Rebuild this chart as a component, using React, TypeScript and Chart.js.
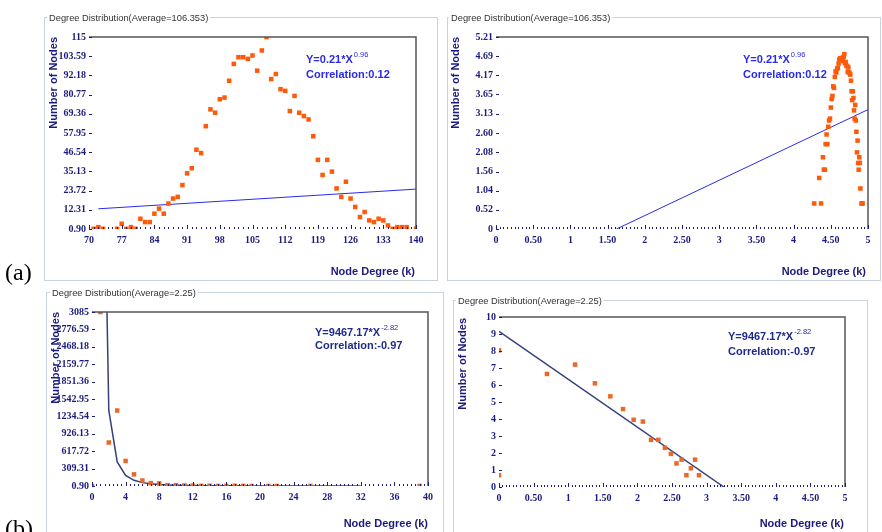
import React, { useEffect, useRef } from 'react';
import { Chart, registerables } from 'chart.js';

Chart.register(...registerables);

// ---------------- data ----------------
// (a) left: degree distribution, linear axes
const aDegrees = [71, 72, 73, 76, 77, 78, 79, 80, 81, 82, 83, 84, 85, 86, 87, 88, 89, 90, 91, 92, 93, 94, 95, 96, 97, 98, 99, 100, 101, 102, 103, 104, 105, 106, 107, 108, 109, 110, 111, 112, 113, 114, 115, 116, 117, 118, 119, 120, 121, 122, 123, 124, 125, 126, 127, 128, 129, 130, 131, 132, 133, 134, 135, 136, 137, 138, 140];
const aCounts = [1, 2, 1, 1, 4, 1, 2, 1, 7, 5, 5, 10, 13, 10, 16, 19, 20, 27, 34, 37, 48, 46, 62, 72, 70, 78, 79, 89, 99, 103, 103, 102, 104, 95, 107, 115, 90, 93, 84, 83, 71, 80, 70, 68, 66, 56, 42, 33, 42, 35, 25, 20, 29, 19, 14, 8, 11, 6, 5, 7, 6, 3, 1, 2, 2, 2, 1];
const aFitX = [72, 140];
const aFitY = [12.9, 24.6];
const aXTickLabels = ['70', '77', '84', '91', '98', '105', '112', '119', '126', '133', '140'];
const aYTickLabels = ['0.90', '12.31', '23.72', '35.13', '46.54', '57.95', '69.36', '80.77', '92.18', '103.59', '115'];

// (a) right: ln-ln view
const aLnDegree = [4.277, 4.344, 4.369, 4.394, 4.407, 4.419, 4.431, 4.443, 4.454, 4.466, 4.477, 4.489, 4.5, 4.511, 4.522, 4.533, 4.543, 4.554, 4.564, 4.575, 4.585, 4.595, 4.605, 4.615, 4.625, 4.635, 4.644, 4.654, 4.663, 4.673, 4.682, 4.691, 4.7, 4.71, 4.718, 4.727, 4.736, 4.745, 4.754, 4.762, 4.771, 4.779, 4.787, 4.796, 4.804, 4.812, 4.82, 4.828, 4.836, 4.844, 4.852, 4.86, 4.868, 4.875, 4.883, 4.89, 4.898, 4.913, 4.92, 4.927];
const aLnCount = [0.693, 1.386, 0.693, 1.946, 1.609, 1.609, 2.303, 2.565, 2.303, 2.773, 2.944, 2.996, 3.296, 3.526, 3.611, 3.871, 3.829, 4.127, 4.277, 4.248, 4.357, 4.369, 4.489, 4.595, 4.635, 4.635, 4.625, 4.644, 4.554, 4.673, 4.745, 4.5, 4.533, 4.431, 4.419, 4.263, 4.382, 4.248, 4.22, 4.19, 4.025, 3.738, 3.497, 3.738, 3.555, 3.219, 2.996, 3.367, 2.944, 2.639, 2.079, 2.398, 1.792, 1.609, 1.946, 1.792, 1.099, 0.693, 0.693, 0.693];
const aLnFitX = [1.62, 5];
const aLnFitY = [0, 3.24];
const lnXTickLabels = ['0', '0.50', '1', '1.50', '2', '2.50', '3', '3.50', '4', '4.50', '5'];
const aLnYTickLabels = ['0', '0.52', '1.04', '1.56', '2.08', '2.60', '3.13', '3.65', '4.17', '4.69', '5.21'];

// (b) left: degree distribution, linear axes
const bDegrees = [0, 1, 2, 3, 4, 5, 6, 7, 8, 9, 10, 11, 12, 13, 14, 15, 16, 17, 18, 19, 21, 22, 26, 39];
const bCounts = [2, 3085, 772, 1339, 445, 207, 98, 52, 47, 16, 16, 10, 7, 4, 5, 2, 3, 5, 2, 1, 1, 1, 1, 1];
const bFitX = [1, 2, 3, 4, 5, 6, 7, 8, 9, 10, 12, 14, 16, 20, 24, 28, 32];
const bFitY = [9467.17, 1340.6, 427.4, 189.9, 101.2, 60.5, 39.2, 26.9, 19.3, 14.3, 8.6, 5.5, 3.8, 2.0, 1.2, 0.79, 0.54];
const bXTickLabels = ['0', '4', '8', '12', '16', '20', '24', '28', '32', '36', '40'];
const bYTickLabels = ['0.90', '309.31', '617.72', '926.13', '1234.54', '1542.95', '1851.36', '2159.77', '2468.18', '2776.59', '3085'];

// (b) right: ln-ln view
const bLnDegree = [0, 0, 0.693, 1.099, 1.386, 1.609, 1.792, 1.946, 2.079, 2.197, 2.303, 2.398, 2.485, 2.565, 2.639, 2.708, 2.773, 2.833, 2.89];
const bLnCount = [8.034, 0.693, 6.649, 7.2, 6.098, 5.333, 4.585, 3.951, 3.85, 2.773, 2.773, 2.303, 1.946, 1.386, 1.609, 0.693, 1.099, 1.609, 0.693];
const bLnFitX = [0, 3.25];
const bLnFitY = [9.16, 0];
const bLnYTickLabels = ['0', '1', '2', '3', '4', '5', '6', '7', '8', '9', '10'];

// ---------------- layout / style ----------------
const NAVY = '#1b1b7e';
const W = 882;
const H = 532;
const Y_AXIS_W = 60;
const X_AXIS_H = 20;

type Panel = {
  id: string;
  area: [number, number, number, number];
  box: [number, number, number, number];
  title: string;
  titleX: number;
  letter?: { text: string; x: number; y: number };
  xTickLabels: string[];
  yTickLabels: string[];
  minor: number;
  xs: number[];
  ys: number[];
  fx: number[];
  fy: number[];
  pointColor: string;
  lineColor: string;
  lineWidth: number;
  eq: string;
  exp: string;
  corr: string;
  ann: [number, number, number];
  annColor: string;
  yTitle: [number, number];
  xTitle: [number, number];
  clip: boolean;
};

const PANELS: Panel[] = [
  {
    id: 'aL', area: [89, 37, 416, 229], box: [44, 17, 437, 280],
    title: 'Degree Distribution(Average=106.353)', titleX: 49,
    letter: { text: '(a)', x: 5, y: 280 },
    xTickLabels: aXTickLabels, yTickLabels: aYTickLabels, minor: 1,
    xs: aDegrees, ys: aCounts, fx: aFitX, fy: aFitY,
    pointColor: '#ff5a0a', lineColor: '#2a2aee', lineWidth: 1,
    eq: 'Y=0.21*X', exp: '0.96', corr: 'Correlation:0.12', ann: [306, 60, 75], annColor: '#2a2ae6',
    yTitle: [54, 37], xTitle: [415, 272], clip: false,
  },
  {
    id: 'aR', area: [496, 37, 868, 229], box: [447, 17, 880, 280],
    title: 'Degree Distribution(Average=106.353)', titleX: 451,
    xTickLabels: lnXTickLabels, yTickLabels: aLnYTickLabels, minor: 0.05,
    xs: aLnDegree, ys: aLnCount, fx: aLnFitX, fy: aLnFitY,
    pointColor: '#ff5a0a', lineColor: '#2a2aee', lineWidth: 1,
    eq: 'Y=0.21*X', exp: '0.96', corr: 'Correlation:0.12', ann: [743, 60, 75], annColor: '#2a2ae6',
    yTitle: [456, 37], xTitle: [866, 272], clip: false,
  },
  {
    id: 'bL', area: [92, 312, 428, 486], box: [46, 292, 443, 545],
    title: 'Degree Distribution(Average=2.25)', titleX: 52,
    letter: { text: '(b)', x: 5, y: 536 },
    xTickLabels: bXTickLabels, yTickLabels: bYTickLabels, minor: 0.5,
    xs: bDegrees, ys: bCounts, fx: bFitX, fy: bFitY,
    pointColor: '#e8692e', lineColor: '#33407a', lineWidth: 1.5,
    eq: 'Y=9467.17*X', exp: '-2.82', corr: 'Correlation:-0.97', ann: [315, 333, 346], annColor: '#1f2a8c',
    yTitle: [56, 312], xTitle: [428, 524], clip: true,
  },
  {
    id: 'bR', area: [499, 317, 845, 487], box: [453, 300, 867, 545],
    title: 'Degree Distribution(Average=2.25)', titleX: 458,
    xTickLabels: lnXTickLabels, yTickLabels: bLnYTickLabels, minor: 0.05,
    xs: bLnDegree, ys: bLnCount, fx: bLnFitX, fy: bLnFitY,
    pointColor: '#e8692e', lineColor: '#33407a', lineWidth: 1.5,
    eq: 'Y=9467.17*X', exp: '-2.82', corr: 'Correlation:-0.97', ann: [728, 337, 352], annColor: '#1f2a8c',
    yTitle: [463, 318], xTitle: [844, 524], clip: true,
  },
];

function makeConfig(p: Panel): any {
  const xVals = p.xTickLabels.map((l) => parseFloat(l));
  const yVals = p.yTickLabels.map((l) => parseFloat(l));
  const xMin = xVals[0];
  const xMax = xVals[xVals.length - 1];
  const yMin = yVals[0];
  const yMax = yVals[yVals.length - 1];
  const tickFont = { family: '"Liberation Serif", "Times New Roman", serif', size: 10, weight: 'bold' };

  const deco = {
    id: 'deco_' + p.id,
    beforeDraw(chart: any) {
      const ctx = chart.ctx as CanvasRenderingContext2D;
      ctx.save();
      const [bl, bt, br, bb] = p.box;
      ctx.strokeStyle = '#c6d4e2';
      ctx.lineWidth = 1;
      ctx.strokeRect(bl + 0.5, bt + 0.5, br - bl, bb - bt);
      ctx.font = '9.3px "Liberation Sans", Arial, sans-serif';
      const w = ctx.measureText(p.title).width;
      ctx.fillStyle = '#ffffff';
      ctx.fillRect(p.titleX - 2, bt - 6, w + 4, 13);
      ctx.fillStyle = '#333333';
      ctx.textBaseline = 'middle';
      ctx.textAlign = 'left';
      ctx.fillText(p.title, p.titleX, bt + 1);
      if (p.letter) {
        ctx.font = '24px "Liberation Serif", "Times New Roman", serif';
        ctx.fillStyle = '#000000';
        ctx.textBaseline = 'alphabetic';
        ctx.fillText(p.letter.text, p.letter.x, p.letter.y);
      }
      ctx.restore();
    },
    beforeDatasetsDraw(chart: any) {
      const ctx = chart.ctx as CanvasRenderingContext2D;
      ctx.save();
      const [ax, y1, y2] = p.ann;
      ctx.fillStyle = p.annColor;
      ctx.textAlign = 'left';
      ctx.textBaseline = 'middle';
      ctx.font = 'bold 11px "Liberation Sans", Arial, sans-serif';
      ctx.fillText(p.eq, ax, y1);
      const w = ctx.measureText(p.eq).width;
      ctx.font = '7.5px "Liberation Sans", Arial, sans-serif';
      ctx.fillText(p.exp, ax + w + 1, y1 - 5);
      ctx.font = 'bold 11px "Liberation Sans", Arial, sans-serif';
      ctx.fillText(p.corr, ax, y2);
      ctx.restore();
    },
    afterDraw(chart: any) {
      const ctx = chart.ctx as CanvasRenderingContext2D;
      const { left, right, top, bottom } = chart.chartArea;
      const xs = chart.scales.x;
      const ys = chart.scales.y;
      ctx.save();
      // frame (top and right)
      ctx.strokeStyle = '#555555';
      ctx.lineWidth = 1.5;
      ctx.beginPath();
      ctx.moveTo(left, top);
      ctx.lineTo(right, top);
      ctx.lineTo(right, bottom);
      ctx.stroke();
      // tick marks
      ctx.strokeStyle = NAVY;
      ctx.lineWidth = 1;
      ctx.beginPath();
      const n = Math.round((xMax - xMin) / p.minor);
      for (let i = 0; i <= n; i++) {
        const px = Math.round(xs.getPixelForValue(xMin + i * p.minor)) + 0.5;
        ctx.moveTo(px, bottom);
        ctx.lineTo(px, bottom - 2);
      }
      xVals.forEach((v) => {
        const px = Math.round(xs.getPixelForValue(v)) + 0.5;
        ctx.moveTo(px, bottom);
        ctx.lineTo(px, bottom - 4);
      });
      yVals.forEach((v) => {
        const py = Math.round(ys.getPixelForValue(v)) + 0.5;
        ctx.moveTo(left, py);
        ctx.lineTo(left + 3, py);
      });
      ctx.stroke();
      // axis titles
      ctx.fillStyle = NAVY;
      ctx.font = 'bold 11px "Liberation Sans", Arial, sans-serif';
      ctx.textBaseline = 'middle';
      ctx.textAlign = 'right';
      ctx.fillText('Node Degree (k)', p.xTitle[0], p.xTitle[1]);
      ctx.save();
      ctx.translate(p.yTitle[0], p.yTitle[1]);
      ctx.rotate(-Math.PI / 2);
      ctx.textAlign = 'right';
      ctx.fillText('Number of Nodes', 0, 0);
      ctx.restore();
      ctx.restore();
    },
  };

  return {
    type: 'scatter',
    data: {
      datasets: [
        {
          data: p.xs.map((x, i) => ({ x, y: p.ys[i] })),
          pointStyle: 'rect',
          pointRadius: 3.2,
          borderWidth: 0,
          backgroundColor: p.pointColor,
          borderColor: p.pointColor,
          clip: p.clip ? 0 : undefined,
        },
        {
          data: p.fx.map((x, i) => ({ x, y: p.fy[i] })),
          showLine: true,
          pointRadius: 0,
          borderColor: p.lineColor,
          borderWidth: p.lineWidth,
          backgroundColor: p.lineColor,
          fill: false,
          tension: 0,
        },
      ],
    },
    options: {
      responsive: false,
      animation: false,
      devicePixelRatio: 1,
      events: [],
      layout: {
        padding: {
          left: p.area[0] - Y_AXIS_W,
          top: p.area[1],
          right: W - p.area[2],
          bottom: H - p.area[3] - X_AXIS_H,
        },
      },
      plugins: { legend: { display: false }, tooltip: { enabled: false }, title: { display: false } },
      scales: {
        x: {
          type: 'linear',
          min: xMin,
          max: xMax,
          afterBuildTicks: (s: any) => {
            s.ticks = xVals.map((v) => ({ value: v }));
          },
          afterFit: (s: any) => {
            s.height = X_AXIS_H;
          },
          ticks: {
            autoSkip: false,
            maxRotation: 0,
            minRotation: 0,
            padding: 5,
            color: NAVY,
            font: tickFont,
            callback: (_v: any, i: number) => p.xTickLabels[i],
          },
          grid: { display: false, drawTicks: false },
          border: { display: false },
        },
        y: {
          type: 'linear',
          min: yMin,
          max: yMax,
          afterBuildTicks: (s: any) => {
            s.ticks = yVals.map((v) => ({ value: v }));
          },
          afterFit: (s: any) => {
            s.width = Y_AXIS_W;
          },
          ticks: {
            autoSkip: false,
            padding: 3,
            color: NAVY,
            font: tickFont,
            callback: (_v: any, i: number) => p.yTickLabels[i],
          },
          grid: { display: false, drawTicks: false },
          border: { display: false },
        },
      },
    },
    plugins: [deco],
  };
}

export default function App() {
  const refs = useRef<(HTMLCanvasElement | null)[]>([]);
  useEffect(() => {
    const charts = PANELS.map((p, i) => new Chart(refs.current[i] as HTMLCanvasElement, makeConfig(p)));
    return () => charts.forEach((c) => c.destroy());
  }, []);
  return (
    <div style={{ position: 'absolute', left: 0, top: 0, width: W, height: H, background: '#ffffff', overflow: 'hidden' }}>
      {PANELS.map((p, i) => (
        <canvas
          key={p.id}
          ref={(el) => {
            refs.current[i] = el;
          }}
          width={W}
          height={H}
          style={{ position: 'absolute', left: 0, top: 0 }}
        />
      ))}
    </div>
  );
}
